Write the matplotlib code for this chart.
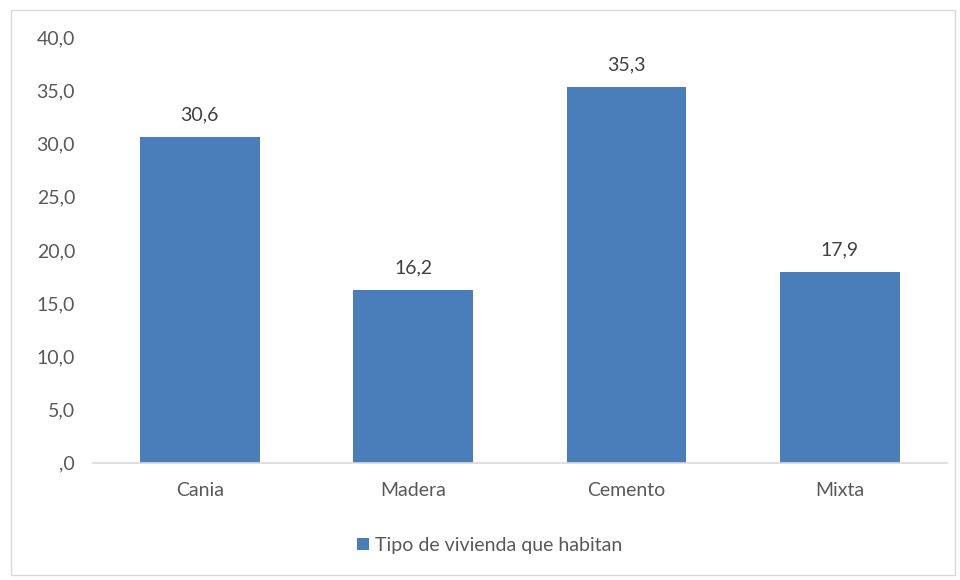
import matplotlib.pyplot as plt
from matplotlib.patches import Rectangle
from matplotlib.ticker import FuncFormatter

categorias = ['Cania', 'Madera', 'Cemento', 'Mixta']
valores = [30.6, 16.2, 35.3, 17.9]
serie = 'Tipo de vivienda que habitan'

plt.rcParams['font.family'] = ['Lato', 'DejaVu Sans']
azul = '#4a7ebb'
gris = '#595959'

fig = plt.figure(figsize=(9.6, 5.8), dpi=100)
fig.patches.append(Rectangle((0.011, 0.008), 0.984, 0.975, transform=fig.transFigure,
                             fill=False, edgecolor='#d9d9d9', linewidth=1))
ax = fig.add_axes([0.097, 0.202, 0.889, 0.734])

x = range(len(categorias))
bars = ax.bar(x, valores, width=0.56, color=azul, label=serie, zorder=2)
for b, v in zip(bars, valores):
    ax.text(b.get_x() + b.get_width() / 2, v + 1.3, ('%.1f' % v).replace('.', ','),
            ha='center', va='bottom', fontsize=14, color='#404040')

ax.set_xlim(-0.5, len(categorias) - 0.5)
ax.set_ylim(0, 40)
ax.set_yticks(range(0, 41, 5))

def fmt(v, pos):
    s = ('%.1f' % v).replace('.', ',')
    return ',0' if v == 0 else s

ax.yaxis.set_major_formatter(FuncFormatter(fmt))
ax.set_xticks(list(x))
ax.set_xticklabels(categorias)
ax.tick_params(axis='both', length=0, labelsize=14, colors=gris)
ax.tick_params(axis='y', pad=13)
ax.tick_params(axis='x', pad=14)
for s in ['top', 'right', 'left']:
    ax.spines[s].set_visible(False)
ax.spines['bottom'].set_color('#d9d9d9')
ax.spines['bottom'].set_linewidth(1.2)

leg = fig.legend(loc='center', bbox_to_anchor=(0.51, 0.06), frameon=False, fontsize=14,
                 handlelength=0.6, handleheight=0.6, handletextpad=0.3)
for t in leg.get_texts():
    t.set_color(gris)

fig.savefig('out.png', dpi=100)
